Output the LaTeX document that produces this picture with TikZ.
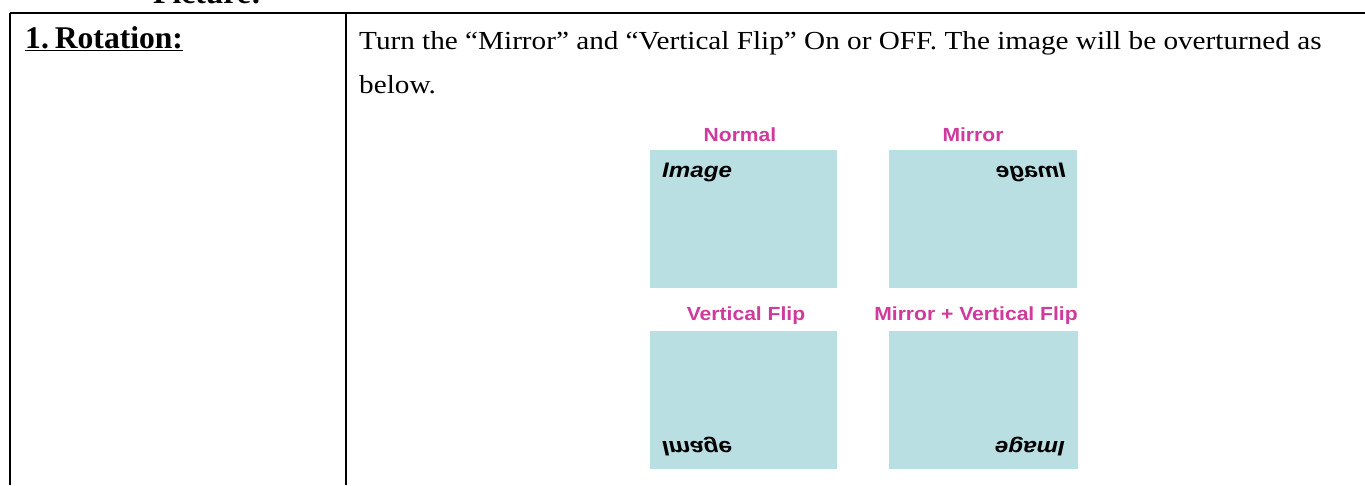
\documentclass[tikz,border=0pt]{standalone}
\usepackage{fontspec}
\setmainfont{Liberation Serif}
\newfontfamily\labelfont{Liberation Sans}
\definecolor{boxcyan}{HTML}{BADFE2}
\definecolor{labelpink}{HTML}{CF3A9C}
\tikzset{
  rule/.style={line width=2.8pt, black},
  imgbox/.style={fill=boxcyan, draw=none},
  caption/.style={inner sep=0, text=labelpink, xscale=1.11, font=\labelfont\bfseries\fontsize{19}{22}\selectfont},
  imgword/.style={inner sep=0, font=\labelfont\bfseries\itshape\fontsize{21}{24}\selectfont},
  bodytext/.style={inner sep=0, anchor=base west, xscale=1.123, font=\fontsize{26}{30}\selectfont},
}
\begin{document}
\begin{tikzpicture}[x=1pt,y=-1pt]
\useasboundingbox (0,0) rectangle (1365,485);
\fill[white] (0,0) rectangle (1365,485);
% cut-off heading
\node[inner sep=0, anchor=base west, font=\bfseries\fontsize{31.6}{36}\selectfont] (pic) at (153,3) {Picture:};
% table rules
\coordinate (tl) at (10,13);
\coordinate (tr) at (1365,13);
\coordinate (bl) at (10,485);
\coordinate (dt) at (346,13);
\coordinate (db) at (346,485);
\draw[rule] (tl) -- (tr);
\draw[rule] (tl) -- (bl);
\draw[rule] (dt) -- (db);
% left cell
\node[inner sep=0, anchor=base west, font=\bfseries\fontsize{31.6}{36}\selectfont] (rot) at (25,48) {\underline{1.\hspace{6pt}Rotation:}};
% body text
\node[bodytext] (l1) at (359,49) {Turn the “Mirror” and “Vertical Flip” On or OFF. The image will be overturned as};
\node[bodytext] (l2) at (359,93) {below.};
% image boxes
\fill[imgbox] (650,150) rectangle (837,288);
\fill[imgbox] (889,150) rectangle (1077,288);
\fill[imgbox] (650,331) rectangle (837,469);
\fill[imgbox] (889,331) rectangle (1078,469);
% captions
\node[caption] (cn) at (740,135) {Normal};
\node[caption] (cm) at (973,135) {Mirror};
\node[caption] (cv) at (746,316) {Vertical Flip};
\node[caption] (cmv) at (976,316) {Mirror + Vertical Flip};
% image words
\node[imgword, anchor=west, xscale=1.15] (wn) at (662,172) {Image};
\node[imgword, anchor=west, xscale=-1.15] (wm) at (1066,172) {Image};
\node[imgword, anchor=west, xscale=1.15, yscale=-1] (wv) at (662,447) {Image};
\node[imgword, anchor=west, xscale=1.15, rotate=180] (wmv) at (1065,447) {Image};
\end{tikzpicture}
\end{document}
